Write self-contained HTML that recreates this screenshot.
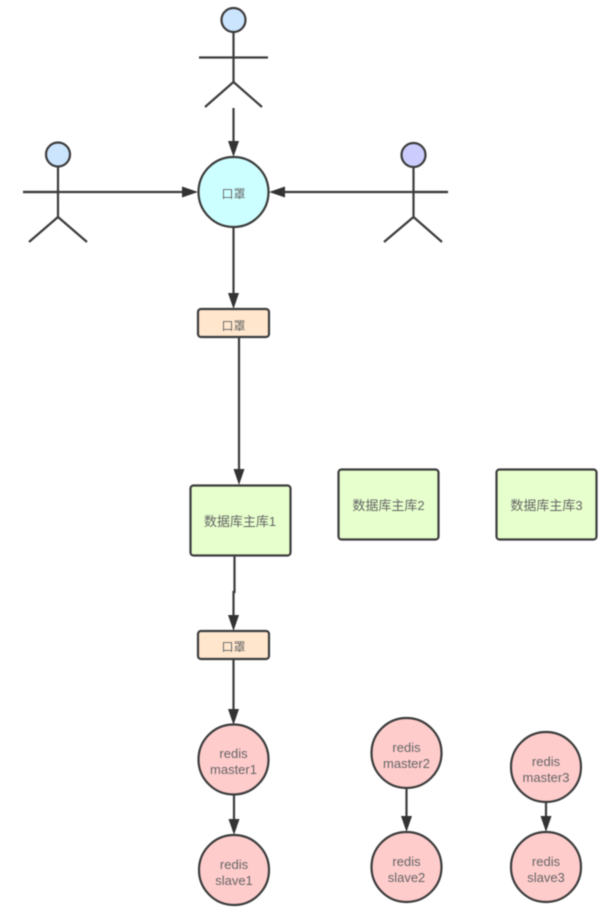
<!DOCTYPE html>
<html>
<head>
<meta charset="utf-8">
<style>
html,body{margin:0;padding:0;background:#fff;width:609px;height:913px;overflow:hidden}
svg{display:block;filter:blur(0.45px)}
text{font-family:"Liberation Sans","Noto Sans CJK SC",sans-serif;font-size:13px;fill:#666;text-anchor:middle}
.s{font-size:12px}
.l{stroke:#3c3c3c;stroke-width:2.2;fill:none}
.n{stroke:#3c3c3c;stroke-width:2.2}
.a{fill:#333;stroke:none}
</style>
</head>
<body>
<svg width="609" height="913" viewBox="0 0 609 913" xmlns="http://www.w3.org/2000/svg">
<!-- actors -->
<circle class="n" cx="233.5" cy="20" r="12" fill="#cce5ff"/>
<path class="l" d="M233.5 32V82M199 57.5H268M205 107L233.5 82L262 107"/>
<circle class="n" cx="58" cy="154.5" r="12" fill="#cce5ff"/>
<path class="l" d="M58 167V217M23 192H58M29 242L58 217L87 242"/>
<circle class="n" cx="413.5" cy="155" r="12" fill="#ccccff"/>
<path class="l" d="M413.5 167V217M413.5 192H448M384 242L413.5 217L442 242"/>

<!-- connectors -->
<path class="l" d="M233.5 108V146M23 192H184M448 192H283M233.5 227V295M239 337V471M234.5 555V592H233.5V617M233.5 659V711M234 794V821M406.5 788V818M546 802V818"/>
<path class="a" d="M233.5 157L228 141H239Z"/>
<path class="a" d="M198 192L182 186.5V197.5Z"/>
<path class="a" d="M269 192L285 186.5V197.5Z"/>
<path class="a" d="M233.5 309L228 293H239Z"/>
<path class="a" d="M239 485L233.5 469H244.5Z"/>
<path class="a" d="M233.5 631L228 615H239Z"/>
<path class="a" d="M233.5 725L228 709H239Z"/>
<path class="a" d="M234 835L228.5 819H239.5Z"/>
<path class="a" d="M406.5 832L401 816H412Z"/>
<path class="a" d="M546 832L540.5 816H551.5Z"/>

<!-- nodes -->
<circle class="n" cx="233.5" cy="192" r="35" fill="#ccffff"/>
<text class="s" x="233.5" y="198">口罩</text>

<rect class="n" x="198" y="309" width="71" height="28" rx="3" fill="#ffe6cc"/>
<text class="s" x="233.5" y="330">口罩</text>

<rect class="n" x="190.5" y="485.5" width="100" height="70" rx="3" fill="#e6ffcc"/>
<text x="240" y="526">数据库主库1</text>
<rect class="n" x="338.5" y="469.5" width="100" height="70" rx="3" fill="#e6ffcc"/>
<text x="388.5" y="510">数据库主库2</text>
<rect class="n" x="496.5" y="469.5" width="100" height="70" rx="3" fill="#e6ffcc"/>
<text x="546.5" y="510">数据库主库3</text>

<rect class="n" x="198" y="631" width="71" height="28" rx="3" fill="#ffe6cc"/>
<text class="s" x="233.5" y="651">口罩</text>

<circle class="n" cx="233.5" cy="759.5" r="35" fill="#ffcccc"/>
<text x="233.5" y="758">redis</text>
<text x="233.5" y="774">master1</text>
<circle class="n" cx="234" cy="870" r="35" fill="#ffcccc"/>
<text x="234" y="869">redis</text>
<text x="234" y="885">slave1</text>

<circle class="n" cx="406.5" cy="753" r="35" fill="#ffcccc"/>
<text x="406.5" y="752">redis</text>
<text x="406.5" y="768">master2</text>
<circle class="n" cx="406.5" cy="867" r="35" fill="#ffcccc"/>
<text x="406.5" y="866">redis</text>
<text x="406.5" y="882">slave2</text>

<circle class="n" cx="546" cy="767" r="35" fill="#ffcccc"/>
<text x="546" y="766">redis</text>
<text x="546" y="782">master3</text>
<circle class="n" cx="546" cy="867" r="35" fill="#ffcccc"/>
<text x="546" y="866">redis</text>
<text x="546" y="882">slave3</text>
</svg>
</body>
</html>
